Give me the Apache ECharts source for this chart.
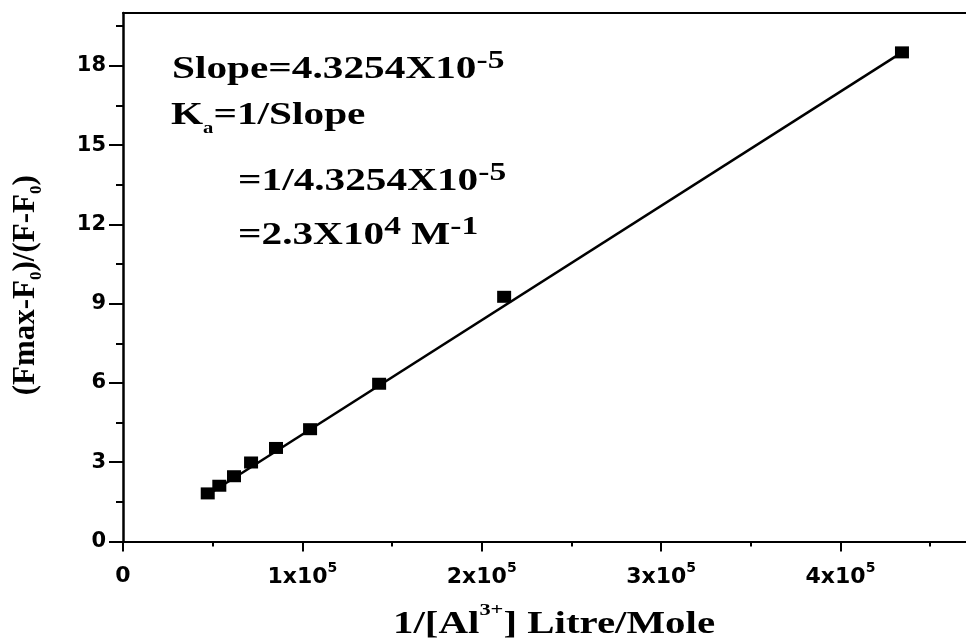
<!DOCTYPE html>
<html><head><meta charset="utf-8">
<script src="https://cdn.jsdelivr.net/npm/echarts@6/dist/echarts.min.js"></script>
<style>html,body{margin:0;padding:0;background:#fff}#c{width:966px;height:642px}</style>
</head><body><div id="c"></div>
<script>
const xValues = [47240, 53700, 61900, 71400, 85300, 104300, 142800, 212500, 434300];
const yValues = [1.82, 2.11, 2.47, 2.99, 3.54, 4.25, 5.97, 9.26, 18.51];
const fitX = [47240, 434300];
const fitY = [1.77, 18.51];
const xMajorTicks = [0, 100000, 200000, 300000, 400000];
const xMinorTicks = [50000, 150000, 250000, 350000, 450000];
const xTickLabels = ['0', '1x10', '2x10', '3x10', '4x10'];
const yMajorTicks = [0, 3, 6, 9, 12, 15, 18];
const yMinorTicks = [1.5, 4.5, 7.5, 10.5, 13.5, 16.5, 19.5];
const yTickLabels = ['0', '3', '6', '9', '12', '15', '18'];

const SERIF = '"Liberation Serif", "Times New Roman", serif';
const SANS = '"DejaVu Sans", sans-serif';
const chart = echarts.init(document.getElementById('c'), null, {renderer: 'canvas'});

const scatterData = xValues.map((x, i) => [x, yValues[i]]);
const fitData = fitX.map((x, i) => [x, fitY[i]]);

const serifRich = {
  m: {fontFamily: SERIF, fontWeight: 'bold', fontSize: 32, fill: '#000', color: '#000'},
  sup: {fontFamily: SERIF, fontWeight: 'bold', fontSize: 26, fill: '#000', color: '#000', padding: [0, 0, 18, 0]},
  sub: {fontFamily: SERIF, fontWeight: 'bold', fontSize: 16, fill: '#000', color: '#000', padding: [26, 0, 0, 0]}
};
function annot(text, x, y) {
  return {type: 'text', x: x, y: y, scaleX: 1.29, z: 10,
    style: {text: text, rich: serifRich, align: 'left', verticalAlign: 'middle', fill: '#000'}};
}

const option = {
  animation: false,
  backgroundColor: '#fff',
  grid: {left: 123, top: 13, right: 0, bottom: 100.5, outerBoundsMode: 'none', containLabel: false},
  xAxis: [
    {type: 'value', min: 0, max: 470000, position: 'bottom',
      axisLine: {show: true, onZero: false, lineStyle: {color: '#000', width: 2}},
      axisTick: {show: true, customValues: xMajorTicks, length: 10, lineStyle: {color: '#000', width: 2}},
      axisLabel: {show: true, customValues: xMajorTicks, margin: 20,
        formatter: function (v) {
          const i = xMajorTicks.indexOf(v);
          if (i < 0) return '';
          return i === 0 ? '{m|' + xTickLabels[i] + '}' : '{m|' + xTickLabels[i] + '}{s|5}';
        },
        rich: {
          m: {fontFamily: SANS, fontWeight: 'bold', fontSize: 22, color: '#000', lineHeight: 30},
          s: {fontFamily: SANS, fontWeight: 'bold', fontSize: 14, color: '#000', padding: [0, 0, 18, 0]}
        }},
      splitLine: {show: false}},
    {type: 'value', min: 0, max: 470000, position: 'bottom',
      axisLine: {show: false}, axisLabel: {show: false}, splitLine: {show: false},
      axisTick: {show: true, customValues: xMinorTicks, length: 5, lineStyle: {color: '#000', width: 2}}},
    {type: 'value', min: 0, max: 470000, position: 'top',
      axisLine: {show: true, onZero: false, lineStyle: {color: '#000', width: 2}},
      axisTick: {show: false}, axisLabel: {show: false}, splitLine: {show: false}}
  ],
  yAxis: [
    {type: 'value', min: 0, max: 20, position: 'left',
      name: '{m|(Fmax-F}{sub|0}{m|)/(F-F}{sub|0}{m|)}',
      nameLocation: 'middle', nameGap: 78, nameRotate: 90,
      nameTextStyle: {padding: [0, 16, 0, 0], rich: {
        m: {fontFamily: SERIF, fontWeight: 'bold', fontSize: 31, color: '#000'},
        sub: {fontFamily: SERIF, fontWeight: 'bold', fontSize: 17, color: '#000', padding: [22, 0, 0, 0]}
      }},
      axisLine: {show: true, onZero: false, lineStyle: {color: '#000', width: 2.5}},
      axisTick: {show: true, customValues: yMajorTicks, length: 14, lineStyle: {color: '#000', width: 2}},
      axisLabel: {show: true, customValues: yMajorTicks, margin: 17,
        fontFamily: SANS, fontWeight: 'bold', fontSize: 21, color: '#000',
        formatter: function (v) { const i = yMajorTicks.indexOf(v); return i < 0 ? '' : yTickLabels[i]; }},
      splitLine: {show: false}},
    {type: 'value', min: 0, max: 20, position: 'left',
      axisLine: {show: false}, axisLabel: {show: false}, splitLine: {show: false},
      axisTick: {show: true, customValues: yMinorTicks, length: 7, lineStyle: {color: '#000', width: 2}}}
  ],
  series: [
    {type: 'line', xAxisIndex: 0, yAxisIndex: 0, data: fitData, showSymbol: false, symbol: 'none',
      lineStyle: {color: '#000', width: 2.5}, z: 2, silent: true},
    {type: 'scatter', xAxisIndex: 0, yAxisIndex: 0, data: scatterData, symbol: 'rect', symbolSize: [14, 12],
      itemStyle: {color: '#000', opacity: 1}, z: 3, silent: true}
  ],
  graphic: [
    annot('{m|Slope=4.3254X10}{sup|-5}', 172, 70),
    annot('{m|K}{sub|a}{m|=1/Slope}', 171, 116),
    annot('{m|=1/4.3254X10}{sup|-5}', 238, 182),
    annot('{m|=2.3X10}{sup|4}{m| M}{sup|-1}', 238, 236),
    {type: 'text', x: 393, y: 625, scaleX: 1.32, z: 10,
      style: {text: '{m|1/[Al}{sup|3+}{m|] Litre/Mole}', align: 'left', verticalAlign: 'middle', fill: '#000',
        rich: {
          m: {fontFamily: SERIF, fontWeight: 'bold', fontSize: 31, fill: '#000'},
          sup: {fontFamily: SERIF, fontWeight: 'bold', fontSize: 17, fill: '#000', padding: [0, 0, 28, 0]}
        }}}
  ]
};
chart.setOption(option);
</script>
</body></html>
